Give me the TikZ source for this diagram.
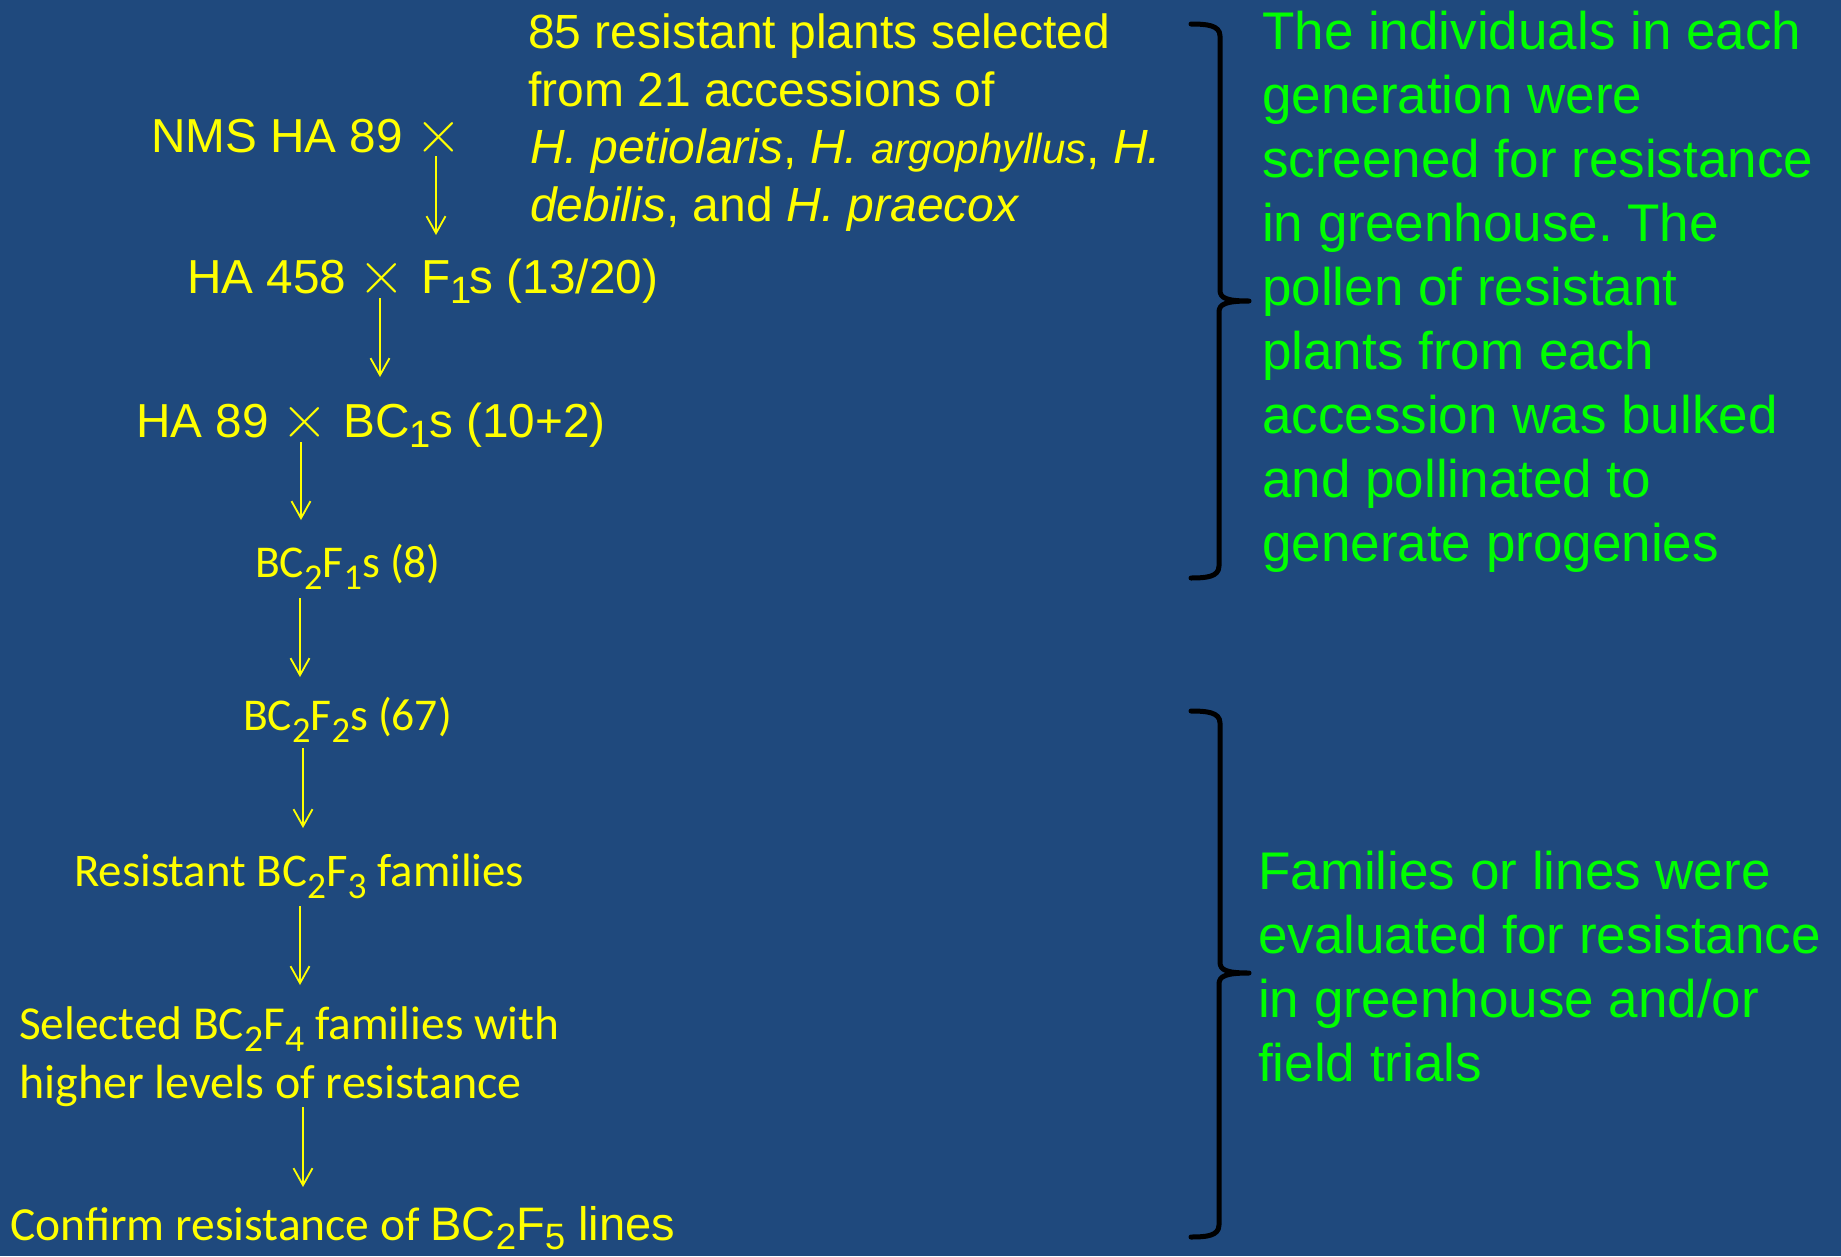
\documentclass[tikz,border=0pt]{standalone}
\usepackage{fontspec}
\usepackage{graphicx}
\newfontfamily\arial{Liberation Sans}
\newfontfamily\calibri{Carlito}
\usetikzlibrary{arrows.meta}
\definecolor{bg}{HTML}{1F497D}
\definecolor{ylw}{HTML}{FFFF00}
\definecolor{grn}{HTML}{00FF00}
\frenchspacing
% subscripts: Arial chain, Calibri, and the final Arial one
\newcommand\asub[1]{\raisebox{-0.23em}{\scalebox{0.8}{#1}}\kern-1.5pt}
\newcommand\csub[1]{\raisebox{-0.27em}{\scalebox{0.8}{#1}}}
\newcommand\fsub[1]{\raisebox{-0.21em}{\scalebox{0.78}{#1}}}
\newcommand\crs{\kern-1pt\raisebox{-1pt}{\scalebox{1.36}{\rmfamily ×}}\kern2.5pt}
\begin{document}
\begin{tikzpicture}[x=1pt,y=-1pt,
  ytxt/.style={text=ylw, inner sep=0, anchor=base west},
  ya/.style={ytxt, font=\arial\fontsize{47.7}{57}\selectfont},
  yc/.style={ytxt, font=\calibri\fontsize{45.5}{55}\selectfont},
  yp/.style={ytxt, font=\arial\fontsize{48}{58}\selectfont},
  gtxt/.style={text=grn, inner sep=0, anchor=base west, font=\arial\fontsize{53}{64}\selectfont},
  arr/.style={draw=ylw, line width=1.8pt, -{Straight Barb[length=17pt,width=19pt]}},
  brk/.style={draw=black, line width=5pt, line cap=round, line join=round}]
\fill[bg] (0,0) rectangle (1841,1256);
\useasboundingbox (0,0) rectangle (1841,1256);

% top-right yellow paragraph
\node[yp] (t1) at (528,48) {85 resistant plants selected};
\node[yp] (t2) at (528,106) {from 21 accessions of};
\node[yp] (t3) at (530,163) {\textit{H. petiolaris}, \textit{H. {\fontsize{42}{50}\selectfont argophyllus}}, \textit{H.}};
\node[yp] (t4) at (530,221) {\textit{debilis}, and \textit{H. praecox}};

% left chain
\node[ya] (n1) at (151,152) {NMS HA 89 \crs};
\node[ya] (n2) at (187,293) {HA 458 \crs{} F\asub{1}s (13/20)};
\node[ya] (n3) at (136,437) {HA 89 \crs{} BC\asub{1}s (10+2)};
\node[yc] (n4) at (255,577) {BC\csub{2}F\csub{1}s (8)};
\node[yc] (n5) at (243,730) {BC\csub{2}F\csub{2}s (67)};
\node[yc, font=\calibri\fontsize{46.8}{56}\selectfont] (n6) at (74,886) {Resistant BC\csub{2}F\csub{3} families};
\node[yc, font=\calibri\fontsize{47.3}{57}\selectfont] (n7a) at (19,1039) {Selected BC\csub{2}F\csub{4} families with};
\node[yc, font=\calibri\fontsize{48}{57}\selectfont] (n7b) at (19,1098) {higher levels of resistance};
\node[yc, font=\calibri\fontsize{47.5}{57}\selectfont] (n8) at (10,1240) {Confirm resistance of {\arial\fontsize{47}{57}\selectfont BC\fsub{2}F\fsub{5} lines}};

% arrows
\coordinate (a1s) at (436,156); \coordinate (a1e) at (436,235);
\coordinate (a2s) at (380,298); \coordinate (a2e) at (380,377);
\coordinate (a3s) at (301,442); \coordinate (a3e) at (301,520);
\coordinate (a4s) at (300,598); \coordinate (a4e) at (300,677);
\coordinate (a5s) at (303,748); \coordinate (a5e) at (303,828);
\coordinate (a6s) at (300,906); \coordinate (a6e) at (300,985);
\coordinate (a7s) at (303,1107); \coordinate (a7e) at (303,1187);
\foreach \i in {1,...,7} {\draw[arr] (a\i s) -- (a\i e);}

% brackets
\draw[brk] (1191,24) .. controls (1206,24) and (1220,25) .. (1220,36) -- (1220,290)
  .. controls (1220,298) and (1226,301) .. (1249,301)
  .. controls (1226,301) and (1219,304) .. (1219,312) -- (1219,566)
  .. controls (1219,577) and (1206,578) .. (1191,578);
\draw[brk] (1191,711) .. controls (1206,711) and (1220,712) .. (1220,723) -- (1220,962)
  .. controls (1220,970) and (1226,973) .. (1249,973)
  .. controls (1226,973) and (1219,976) .. (1219,984) -- (1219,1225)
  .. controls (1219,1236) and (1206,1237) .. (1191,1237);

% green paragraphs
\node[gtxt] (g1) at (1262,49) {The individuals in each};
\node[gtxt] (g2) at (1262,113) {generation were};
\node[gtxt] (g3) at (1262,177) {screened for resistance};
\node[gtxt] (g4) at (1262,241) {in greenhouse. The};
\node[gtxt] (g5) at (1262,305) {pollen of resistant};
\node[gtxt] (g6) at (1262,369) {plants from each};
\node[gtxt] (g7) at (1262,433) {accession was bulked};
\node[gtxt] (g8) at (1262,497) {and pollinated to};
\node[gtxt] (g9) at (1262,561) {generate progenies};
\node[gtxt] (h1) at (1258,889) {Families or lines were};
\node[gtxt] (h2) at (1258,953) {evaluated for resistance};
\node[gtxt] (h3) at (1258,1017) {in greenhouse and/or};
\node[gtxt] (h4) at (1258,1081) {field trials};
\end{tikzpicture}
\end{document}
